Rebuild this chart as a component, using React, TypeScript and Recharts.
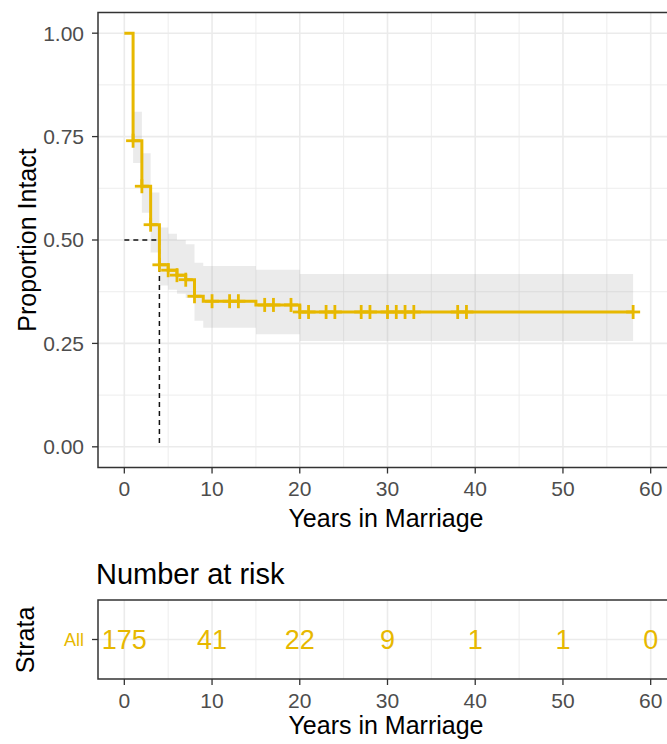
import {
  Area,
  CartesianGrid,
  ComposedChart,
  Line,
  ReferenceArea,
  ReferenceLine,
  Scatter,
  XAxis,
  YAxis,
} from "recharts";

const KM_COLOR = "#E7B800";
const TEXT_GREY = "#4D4D4D";
const FONT = "'Liberation Sans', Arial, Helvetica, sans-serif";

// Kaplan-Meier fit: start of each step (years), survival and 95% CI on that step
const stepTimes = [0, 1, 2, 3, 4, 5, 6, 7, 8, 9, 15, 20, 58];
const survival = [1, 0.74, 0.63, 0.537, 0.44, 0.427, 0.415, 0.404, 0.364, 0.352, 0.343, 0.326, 0.326];
const lowerCI = [1, 0.686, 0.566, 0.47, 0.39, 0.38, 0.37, 0.36, 0.305, 0.288, 0.272, 0.256, 0.256];
const upperCI = [1, 0.81, 0.71, 0.615, 0.53, 0.515, 0.5, 0.49, 0.445, 0.437, 0.428, 0.418, 0.418];

// censored marriages (years)
const censorTimes = [1, 2, 3, 4, 5, 6, 7, 8, 10, 12, 13, 16, 17, 19, 20, 21, 23, 24, 27, 28, 30, 31, 32, 33, 38, 39, 58];

const medianTime = 4;

// risk table
const riskTimes = [0, 10, 20, 30, 40, 50, 60];
const atRisk = [175, 41, 22, 9, 1, 1, 0];
const strata = ["All"];

const xTicks = [0, 10, 20, 30, 40, 50, 60];
const xMinor = [5, 15, 25, 35, 45, 55];
const yTicks = [0, 0.25, 0.5, 0.75, 1];
const yMinor = [0.125, 0.375, 0.625, 0.875];
const X_DOMAIN: [number, number] = [-3, 63];
const Y_DOMAIN: [number, number] = [-0.05, 1.05];

const kmRows = stepTimes.map((t, i) => ({
  t,
  surv: survival[i],
  band: [lowerCI[i], upperCI[i]],
}));

// survival level in effect at time t
const survAt = (t: number) => {
  let s = survival[0];
  stepTimes.forEach((st, i) => {
    if (st <= t) s = survival[i];
  });
  return s;
};

const censorRows = censorTimes.map((t) => ({ t, surv: survAt(t) }));
const riskRows = riskTimes.map((t, i) => ({ t, row: 1, n: atRisk[i] }));

function CensorMark(props: any) {
  const { cx, cy } = props;
  if (cx == null || cy == null) return null;
  const r = 7;
  return (
    <g stroke={KM_COLOR} strokeWidth={2.8}>
      <line x1={cx - r} y1={cy} x2={cx + r} y2={cy} />
      <line x1={cx} y1={cy - r} x2={cx} y2={cy + r} />
    </g>
  );
}

function RiskCount(props: any) {
  const { cx, cy, payload } = props;
  if (cx == null || cy == null) return null;
  return (
    <text
      x={cx}
      y={cy}
      dy="0.36em"
      textAnchor="middle"
      fill={KM_COLOR}
      fontSize={27}
    >
      {payload.n}
    </text>
  );
}

const tickStyle = { fill: TEXT_GREY, fontSize: 21 };
const tickLine = { stroke: "#333333", strokeWidth: 1.3 };

function AxisTitle({
  text,
  x,
  y,
  rotate,
  size = 25,
  align = "center",
}: {
  text: string;
  x: number;
  y: number;
  rotate?: boolean;
  size?: number;
  align?: "center" | "left";
}) {
  return (
    <div
      style={{
        position: "absolute",
        left: x,
        top: y,
        fontSize: size,
        lineHeight: 1,
        color: "#000",
        whiteSpace: "nowrap",
        transform:
          (align === "center" ? "translate(-50%, -50%)" : "translate(0, -50%)") +
          (rotate ? " rotate(-90deg)" : ""),
      }}
    >
      {text}
    </div>
  );
}

export default function App() {
  return (
    <div
      style={{
        position: "absolute",
        left: 0,
        top: 0,
        width: 667,
        height: 744,
        overflow: "hidden",
        background: "#fff",
        fontFamily: FONT,
      }}
    >
      <div style={{ position: "absolute", left: 0, top: 0 }}>
        <ComposedChart
          width={700}
          height={560}
          data={kmRows}
          margin={{ top: 12.5, right: 23, bottom: 0, left: 0 }}
        >
          <CartesianGrid
            verticalValues={xMinor}
            horizontalValues={yMinor}
            stroke="#EBEBEB"
            strokeWidth={0.9}
          />
          <CartesianGrid
            verticalValues={xTicks}
            horizontalValues={yTicks}
            stroke="#EBEBEB"
            strokeWidth={1.6}
          />
          <XAxis
            dataKey="t"
            type="number"
            domain={X_DOMAIN}
            ticks={xTicks}
            interval={0}
            height={92.5}
            axisLine={false}
            tickLine={tickLine}
            tickSize={6}
            tickMargin={8}
            tick={tickStyle}
          />
          <YAxis
            type="number"
            domain={Y_DOMAIN}
            ticks={yTicks}
            interval={0}
            width={98}
            axisLine={false}
            tickLine={tickLine}
            tickSize={6}
            tickMargin={8}
            tick={tickStyle}
            tickFormatter={(v: number) => v.toFixed(2)}
          />
          <Area
            type="stepAfter"
            dataKey="band"
            fill="#999999"
            fillOpacity={0.2}
            stroke="none"
            isAnimationActive={false}
          />
          <ReferenceLine
            segment={[
              { x: 0, y: 0.5 },
              { x: medianTime, y: 0.5 },
            ]}
            stroke="#111"
            strokeWidth={1.5}
            strokeDasharray="5 4"
          />
          <ReferenceLine
            segment={[
              { x: medianTime, y: 0.5 },
              { x: medianTime, y: 0 },
            ]}
            stroke="#111"
            strokeWidth={1.5}
            strokeDasharray="5 4"
          />
          <Line
            type="stepAfter"
            dataKey="surv"
            stroke={KM_COLOR}
            strokeWidth={3}
            dot={false}
            activeDot={false}
            isAnimationActive={false}
          />
          <Scatter
            data={censorRows}
            dataKey="surv"
            shape={<CensorMark />}
            isAnimationActive={false}
          />
          <ReferenceArea
            x1={X_DOMAIN[0]}
            x2={X_DOMAIN[1]}
            y1={Y_DOMAIN[0]}
            y2={Y_DOMAIN[1]}
            fill="none"
            stroke="#333333"
            strokeWidth={1.5}
          />
        </ComposedChart>
      </div>

      <AxisTitle text="Proportion Intact" x={27} y={240} rotate />
      <AxisTitle text="Years in Marriage" x={386} y={518} />

      <AxisTitle text="Number at risk" x={96} y={574} size={29} align="left" />

      <div style={{ position: "absolute", left: 0, top: 560 }}>
        <ComposedChart
          width={700}
          height={184}
          data={riskRows}
          margin={{ top: 40, right: 23, bottom: 0, left: 0 }}
        >
          <CartesianGrid
            verticalValues={xMinor}
            horizontal={false}
            stroke="#EBEBEB"
            strokeWidth={0.9}
          />
          <CartesianGrid
            verticalValues={xTicks}
            horizontalValues={[1]}
            stroke="#EBEBEB"
            strokeWidth={1.6}
          />
          <XAxis
            dataKey="t"
            type="number"
            domain={X_DOMAIN}
            ticks={xTicks}
            interval={0}
            height={65}
            axisLine={false}
            tickLine={tickLine}
            tickSize={6}
            tickMargin={8}
            tick={tickStyle}
          />
          <YAxis
            type="number"
            domain={[0, 2]}
            ticks={[1]}
            interval={0}
            width={98}
            axisLine={false}
            tickLine={tickLine}
            tickSize={6}
            tickMargin={8}
            tick={{ fill: KM_COLOR, fontSize: 18 }}
            tickFormatter={() => strata[0]}
          />
          <Scatter
            data={riskRows}
            dataKey="row"
            shape={<RiskCount />}
            isAnimationActive={false}
          />
          <ReferenceArea
            x1={X_DOMAIN[0]}
            x2={X_DOMAIN[1]}
            y1={0}
            y2={2}
            fill="none"
            stroke="#333333"
            strokeWidth={1.5}
          />
        </ComposedChart>
      </div>

      <AxisTitle text="Strata" x={25} y={640} rotate />
      <AxisTitle text="Years in Marriage" x={386} y={725} />
    </div>
  );
}
